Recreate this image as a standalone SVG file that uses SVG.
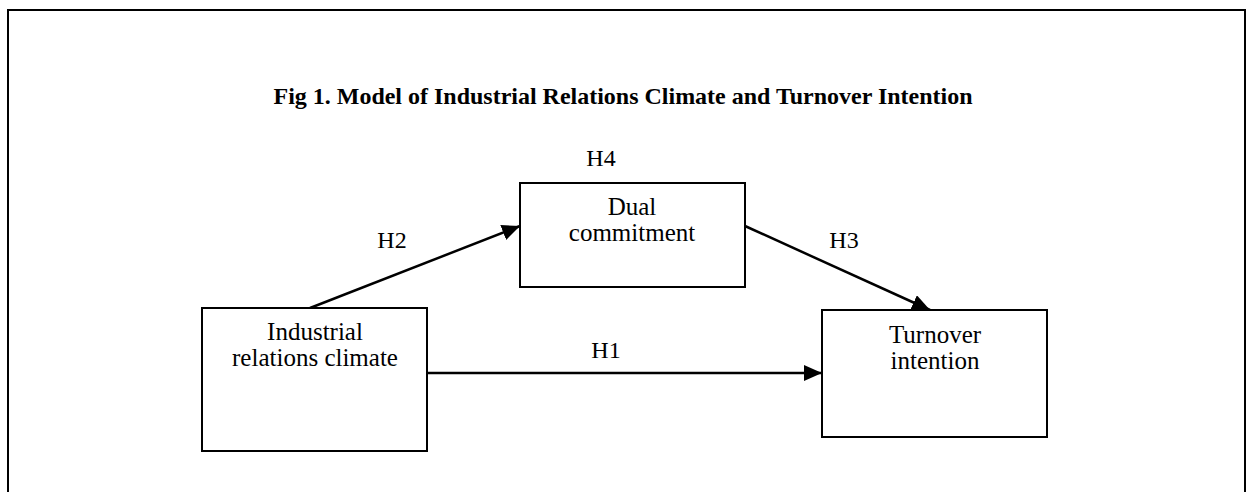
<svg xmlns="http://www.w3.org/2000/svg" width="1247" height="492" viewBox="0 0 1247 492">
<style>
.box{fill:#fff;stroke:#000;stroke-width:2}
.t{font-family:"Liberation Serif","Times New Roman",serif;font-size:25px;fill:#000;text-anchor:middle}
.lbl{font-family:"Liberation Serif","Times New Roman",serif;font-size:24px;fill:#000;text-anchor:middle}
.title{font-family:"Liberation Serif","Times New Roman",serif;font-size:23px;font-weight:bold;fill:#000;text-anchor:middle}
.edge{stroke:#000;stroke-width:2.5;fill:none}
</style>
<defs>
<marker id="ah" markerUnits="userSpaceOnUse" markerWidth="20" markerHeight="16" refX="18" refY="8" orient="auto">
<path d="M0,0 L18,8 L0,16 Z" fill="#000"/>
</marker>
</defs>
<rect width="1247" height="492" fill="#fff"/>
<path d="M8,500 L8,10 L1245,10 L1245,500" fill="none" stroke="#000" stroke-width="2"/>
<text class="title" x="623" y="104" textLength="699" lengthAdjust="spacingAndGlyphs">Fig 1. Model of Industrial Relations Climate and Turnover Intention</text>
<g id="connectors">
<line class="edge" x1="310" y1="308" x2="520" y2="226" marker-end="url(#ah)"/>
<line class="edge" x1="745" y1="226" x2="930" y2="310" marker-end="url(#ah)"/>
<line class="edge" x1="427" y1="373" x2="822" y2="373" marker-end="url(#ah)"/>
<text class="lbl" x="601" y="166">H4</text>
<text class="lbl" x="392" y="248">H2</text>
<text class="lbl" x="844" y="248">H3</text>
<text class="lbl" x="606" y="358">H1</text>
</g>
<g id="irc">
<rect class="box" x="202" y="308" width="225" height="143"/>
<text class="t" x="315" y="340">Industrial</text>
<text class="t" x="315" y="366">relations climate</text>
</g>
<g id="dual">
<rect class="box" x="520" y="183" width="225" height="104"/>
<text class="t" x="632" y="215">Dual</text>
<text class="t" x="632" y="241">commitment</text>
</g>
<g id="turnover">
<rect class="box" x="822" y="310" width="225" height="127"/>
<text class="t" x="935" y="343">Turnover</text>
<text class="t" x="935" y="369">intention</text>
</g>
</svg>
